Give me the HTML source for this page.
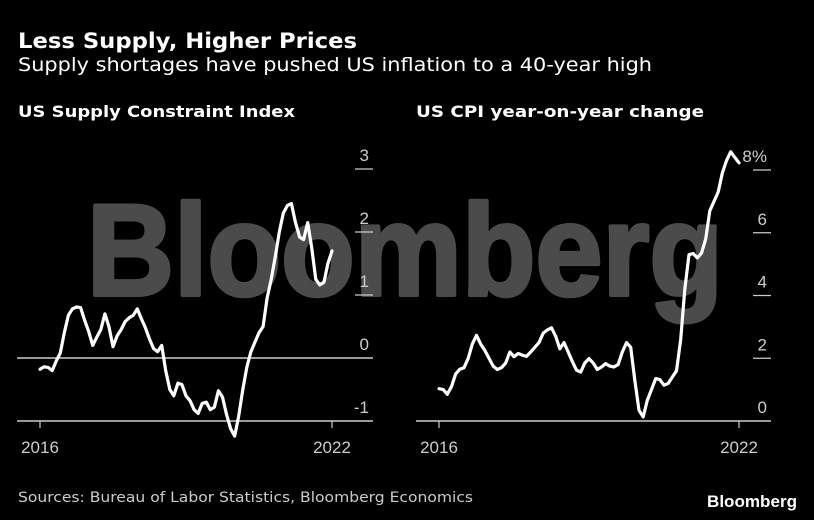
<!DOCTYPE html>
<html><head><meta charset="utf-8"><style>
html,body{margin:0;padding:0;background:#000;}
svg{display:block;font-family:"Liberation Sans","DejaVu Sans",sans-serif;}
.dv{font-family:"DejaVu Sans","Liberation Sans",sans-serif;}
</style></head><body>
<svg id="chart" width="814" height="520" viewBox="0 0 814 520">
<rect width="814" height="520" fill="#000"/>
<text x="87" y="295" font-size="130" font-weight="bold" fill="#4b4b4b" stroke="#4b4b4b" stroke-width="4" stroke-linejoin="round" textLength="636" lengthAdjust="spacingAndGlyphs">Bloomberg</text>
<text class="dv" x="18" y="48" font-size="21" font-weight="bold" fill="#fff" textLength="339" lengthAdjust="spacingAndGlyphs">Less Supply, Higher Prices</text>
<text class="dv" x="18" y="71" font-size="19" fill="#fff" textLength="634" lengthAdjust="spacingAndGlyphs">Supply shortages have pushed US inflation to a 40-year high</text>
<text class="dv" x="18" y="117" font-size="16" font-weight="bold" fill="#fff" textLength="277" lengthAdjust="spacingAndGlyphs">US Supply Constraint Index</text>
<text class="dv" x="416" y="117" font-size="16" font-weight="bold" fill="#fff" textLength="288" lengthAdjust="spacingAndGlyphs">US CPI year-on-year change</text>
<text class="dv" x="18" y="502" font-size="14" fill="#ccc" textLength="455" lengthAdjust="spacingAndGlyphs">Sources: Bureau of Labor Statistics, Bloomberg Economics</text>
<text x="797" y="507" font-size="17" font-weight="bold" fill="#fff" text-anchor="end" textLength="90" lengthAdjust="spacingAndGlyphs">Bloomberg</text>
<g id="left"></g>
<g id="right"></g>
</svg>
<script>
const months = Array.from({length:73},(_,i)=>i); // Jan 2016 .. Jan 2022
const xTickLabels = ["2016","2022"];
const xTickMonths = [0,72];
const supplyValues = [-0.18,-0.14,-0.15,-0.2,-0.05,0.08,0.4,0.68,0.78,0.81,0.8,0.6,0.42,0.2,0.33,0.45,0.7,0.5,0.18,0.35,0.45,0.58,0.64,0.68,0.78,0.62,0.48,0.3,0.15,0.1,0.2,-0.2,-0.5,-0.6,-0.4,-0.42,-0.6,-0.68,-0.82,-0.88,-0.72,-0.7,-0.82,-0.78,-0.52,-0.62,-0.9,-1.12,-1.24,-0.92,-0.5,-0.15,0.1,0.25,0.4,0.5,0.95,1.25,1.6,2.0,2.3,2.42,2.45,2.15,1.92,1.88,2.15,1.75,1.25,1.16,1.2,1.5,1.7];
const supplyTicks = [-1,0,1,2,3];
const supplyTickLabels = ["-1","0","1","2","3"];
const cpiValues = [1.03,1.0,0.85,1.1,1.5,1.65,1.7,2.0,2.45,2.73,2.45,2.25,2.0,1.75,1.64,1.7,1.85,2.2,2.05,2.15,2.1,2.06,2.2,2.35,2.5,2.8,2.9,2.97,2.7,2.3,2.5,2.2,1.9,1.62,1.56,1.85,1.99,1.85,1.64,1.72,1.83,1.75,1.72,1.8,2.2,2.5,2.35,1.3,0.34,0.13,0.66,1.0,1.35,1.32,1.14,1.2,1.4,1.6,2.6,4.2,5.3,5.34,5.2,5.35,5.8,6.7,7.0,7.3,7.9,8.3,8.58,8.4,8.23];
const cpiTicks = [0,2,4,6,8];
const cpiTickLabels = ["0","2","4","6","8%"];
const NS="http://www.w3.org/2000/svg";
function mk(parent,tag,attrs){const e=document.createElementNS(NS,tag);for(const k in attrs)e.setAttribute(k,attrs[k]);parent.appendChild(e);return e;}
function panel(g,cfg){
  const x=m=>cfg.x0+(cfg.x1-cfg.x0)*m/72;
  const y=v=>cfg.yA+(v-cfg.vA)*(cfg.yB-cfg.yA)/(cfg.vB-cfg.vA);
  cfg.ticks.forEach((t,i)=>{
    const yy=y(t);
    const full=(t===cfg.fullLine||t===cfg.axisVal);
    const l=mk(g,'line',{x1:full?cfg.axL:cfg.axR-18,x2:cfg.axR,y1:yy,y2:yy,stroke:'#ccc','stroke-width':full?1.5:1.2});
    
    
    const tx=mk(g,'text',{x:cfg.axR-4,y:yy-8,'text-anchor':'end','font-size':17,fill:'#ccc'});
    tx.textContent=cfg.labels[i];
    
    
  });
  xTickMonths.forEach((m,i)=>{
    const xx=x(m), yb=y(cfg.axisVal);
    const l=mk(g,'line',{x1:xx,x2:xx,y1:yb,y2:yb+7,stroke:'#ccc','stroke-width':1.2});
    
    
    const tx=mk(g,'text',{x:xx,y:yb+32,'text-anchor':'middle','font-size':17,fill:'#ccc'});
    tx.textContent=xTickLabels[i];
    
    
  });
  const d=months.map((m,i)=>(i?'L':'M')+x(m).toFixed(1)+','+y(cfg.values[i]).toFixed(1)).join(' ');
  const p=mk(g,'path',{d:d,fill:'none',stroke:'#fff','stroke-width':3.2,'stroke-linejoin':'round','stroke-linecap':'round'});
  
  
}
panel(document.getElementById('left'),{x0:40,x1:332,vA:0,yA:358,vB:-1,yB:421,ticks:supplyTicks,labels:supplyTickLabels,values:supplyValues,axL:17,axR:373,fullLine:0,axisVal:-1,name:'supply-index-line'});
panel(document.getElementById('right'),{x0:439,x1:739,vA:0,yA:421,vB:8,yB:170,ticks:cpiTicks,labels:cpiTickLabels,values:cpiValues,axL:416,axR:771,fullLine:0,axisVal:0,name:'cpi-line'});
</script>
</body></html>
